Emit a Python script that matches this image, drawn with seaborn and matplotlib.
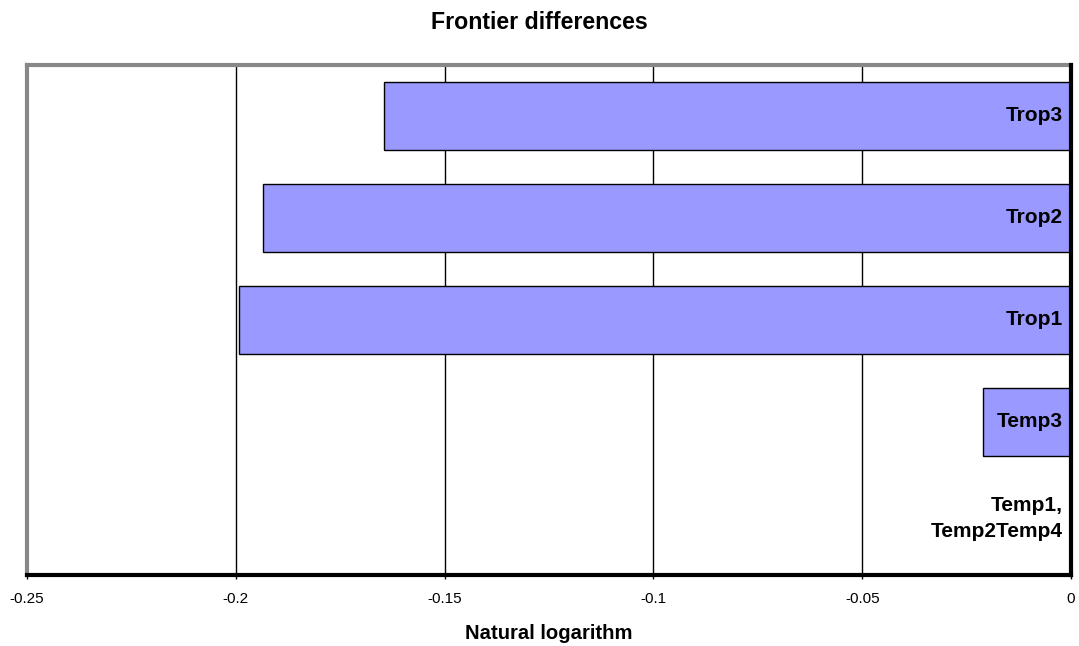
import matplotlib

matplotlib.use("Agg")

import matplotlib.pyplot as plt
import pandas as pd
import seaborn as sns

# data, top to bottom as drawn
categories = ["Trop3", "Trop2", "Trop1", "Temp3", "Temp1,\nTemp2Temp4"]
values = [-0.1645, -0.1935, -0.1992, -0.0211, 0.0]
xticks = [-0.25, -0.2, -0.15, -0.1, -0.05, 0]
xtick_labels = ["-0.25", "-0.2", "-0.15", "-0.1", "-0.05", "0"]


def main() -> None:
    df = pd.DataFrame({"group": categories, "value": values})

    sns.set_theme(style="white")
    plt.rcParams["font.family"] = ["Liberation Sans", "DejaVu Sans"]
    plt.rcParams["text.color"] = "black"
    plt.rcParams["axes.labelcolor"] = "black"
    plt.rcParams["xtick.color"] = "black"

    fig = plt.figure(figsize=(10.79, 6.46), dpi=100)
    ax = fig.add_axes([0.025, 0.11, 0.9676, 0.7894])

    sns.barplot(
        data=df,
        y="group",
        x="value",
        order=categories,
        orient="h",
        color="#9999ff",
        saturation=1,
        width=0.67,
        edgecolor="black",
        linewidth=1,
        ax=ax,
        zorder=3,
    )

    ax.set_xlim(-0.25, 0)
    ax.set_ylim(4.5, -0.5)
    ax.set_xticks(xticks)
    ax.set_xticklabels(xtick_labels, fontsize=11)
    ax.set_yticks([])
    ax.set_ylabel("")
    ax.set_xlabel("Natural logarithm", fontsize=14.6, fontweight="bold", labelpad=13)
    ax.tick_params(axis="x", length=3, width=1, color="black", pad=9, bottom=True)

    for x in xticks[1:-1]:
        ax.axvline(x, color="black", lw=1, zorder=1)

    for side in ["left", "top"]:
        ax.spines[side].set_color("#888888")
        ax.spines[side].set_linewidth(3)
    for side in ["bottom", "right"]:
        ax.spines[side].set_color("black")
        ax.spines[side].set_linewidth(3)
        ax.spines[side].set_zorder(5)

    for i, name in enumerate(categories):
        # the two-line label sits slightly above its slot centre
        dy = 4 if "\n" in name else 0
        ax.annotate(
            name,
            xy=(0, i),
            xytext=(-6, dy),
            textcoords="offset points",
            ha="right",
            va="center",
            fontsize=15,
            fontweight="bold",
            linespacing=1.45,
            multialignment="right",
            zorder=6,
        )

    fig.suptitle("Frontier differences", fontsize=16.7, fontweight="bold", y=0.983)

    fig.savefig("out.png", dpi=100)
    plt.close(fig)


if __name__ == "__main__":
    main()
